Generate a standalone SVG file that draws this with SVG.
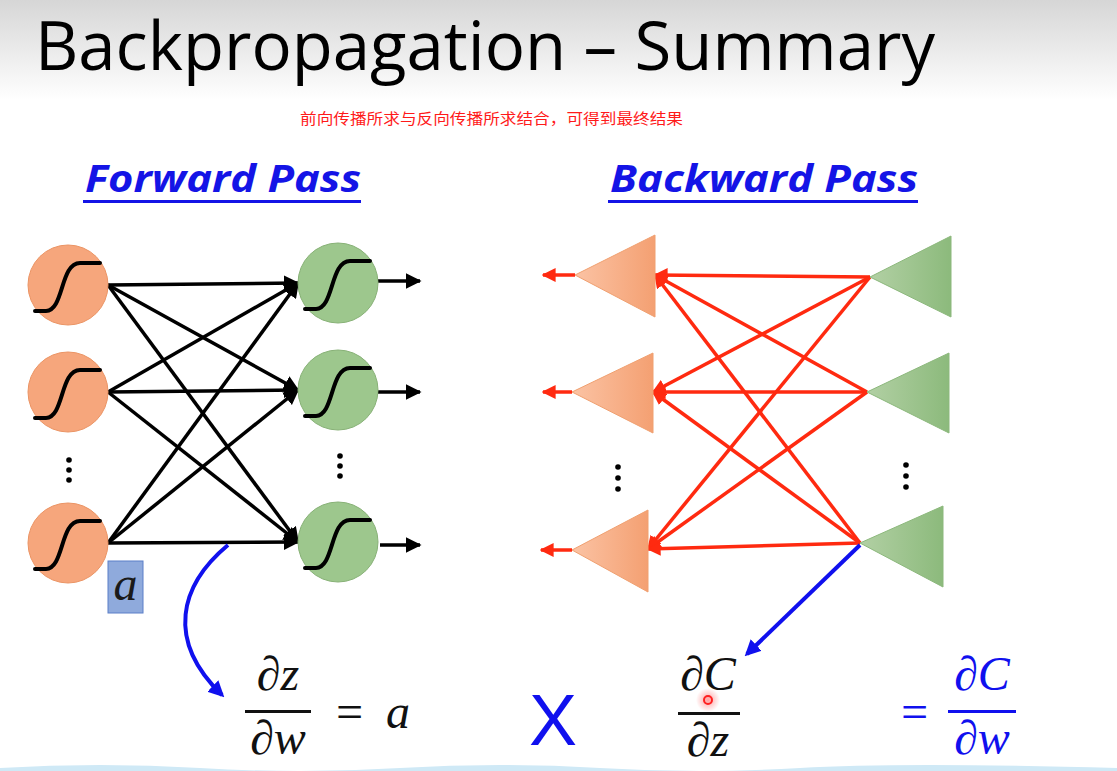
<svg xmlns="http://www.w3.org/2000/svg" width="1117" height="771" viewBox="0 0 1117 771">
<defs>
<linearGradient id="bg" x1="0" y1="0" x2="0" y2="1">
<stop offset="0" stop-color="#d6d6d6"/><stop offset="1" stop-color="#ffffff"/>
</linearGradient>
<linearGradient id="og" x1="0" y1="0" x2="1" y2="0">
<stop offset="0" stop-color="#fbc3a4"/><stop offset="1" stop-color="#f4a072"/>
</linearGradient>
<linearGradient id="gg" x1="0" y1="0" x2="1" y2="0">
<stop offset="0" stop-color="#b2d0a4"/><stop offset="1" stop-color="#8cba7c"/>
</linearGradient>
<radialGradient id="glow"><stop offset="0" stop-color="#ff6060" stop-opacity="0.6"/><stop offset="1" stop-color="#ff6060" stop-opacity="0"/></radialGradient>
<marker id="ak" viewBox="0 0 10 10" refX="9" refY="5" markerWidth="4.5" markerHeight="4.5" orient="auto" markerUnits="strokeWidth"><path d="M0,0 L10,5 L0,10 z" fill="#000"/></marker>
<marker id="ar" viewBox="0 0 10 10" refX="9" refY="5" markerWidth="4" markerHeight="4" orient="auto" markerUnits="strokeWidth"><path d="M0,0 L10,5 L0,10 z" fill="#ff2a10"/></marker>
<marker id="ab" viewBox="0 0 10 10" refX="8" refY="5" markerWidth="4" markerHeight="4" orient="auto" markerUnits="strokeWidth"><path d="M0,0 L10,5 L0,10 z" fill="#1010ee"/></marker>
<path id="sig" d="M-33,26 L-22,26 C-4,26 -8,-22 12,-22 L32,-22"/>
</defs>
<style>
.oc{fill:#f6a67c;stroke:#eb9464;stroke-width:1}
.gc{fill:#9dc78d;stroke:#87b176;stroke-width:1}
.s{fill:none;stroke:#000;stroke-width:4;stroke-linecap:round}
.fw{stroke:#000;stroke-width:3.5;fill:none}
.bw{stroke:#ff2a10;stroke-width:3.5;fill:none}
.ot{fill:url(#og);stroke:#f0a070;stroke-width:1}
.gt{fill:url(#gg);stroke:#8cb87c;stroke-width:1}
.dot{fill:#000}
.hd{font-family:"Open Sans","Liberation Sans",sans-serif;font-weight:bold;font-style:italic;font-size:38px;fill:#1414e6}
.m{font-family:"Liberation Serif","DejaVu Serif",serif;font-style:italic;font-size:48px}
</style>
<rect x="0" y="0" width="1117" height="100" fill="url(#bg)"/>
<rect x="0" y="100" width="1117" height="671" fill="#fff"/>
<text x="35" y="70" font-family="'Open Sans','Liberation Sans',sans-serif" font-size="68" fill="#000" textLength="900" lengthAdjust="spacingAndGlyphs">Backpropagation – Summary</text>
<text x="300" y="124" font-family="'Noto Sans CJK SC',sans-serif" font-size="15" fill="#ff1a1a" textLength="383" lengthAdjust="spacingAndGlyphs">前向传播所求与反向传播所求结合，可得到最终结果</text>

<g id="fwd-title">
<text class="hd" x="85" y="192" textLength="276" lengthAdjust="spacingAndGlyphs">Forward Pass</text>
<rect x="83" y="200" width="278" height="3" fill="#1414e6"/>
</g>
<g id="bwd-title">
<text class="hd" x="610" y="192" textLength="308" lengthAdjust="spacingAndGlyphs">Backward Pass</text>
<rect x="608" y="200" width="310" height="3" fill="#1414e6"/>
</g>

<g id="connectors">
<g class="fw" marker-end="url(#ak)">
<line x1="108" y1="285" x2="298" y2="283"/>
<line x1="108" y1="285" x2="298" y2="390"/>
<line x1="108" y1="285" x2="298" y2="542"/>
<line x1="108" y1="392" x2="298" y2="283"/>
<line x1="108" y1="392" x2="298" y2="390"/>
<line x1="108" y1="392" x2="298" y2="542"/>
<line x1="108" y1="543" x2="298" y2="283"/>
<line x1="108" y1="543" x2="298" y2="390"/>
<line x1="108" y1="543" x2="298" y2="542"/>
<line x1="378" y1="281" x2="420" y2="281"/>
<line x1="378" y1="392" x2="420" y2="392"/>
<line x1="380" y1="545" x2="420" y2="545"/>
</g>
<g class="bw" marker-end="url(#ar)">
<line x1="870" y1="277" x2="655" y2="275"/>
<line x1="870" y1="277" x2="653" y2="392"/>
<line x1="870" y1="277" x2="648" y2="549"/>
<line x1="867" y1="392" x2="655" y2="275"/>
<line x1="867" y1="392" x2="653" y2="392"/>
<line x1="867" y1="392" x2="648" y2="549"/>
<line x1="860" y1="543" x2="655" y2="275"/>
<line x1="860" y1="543" x2="653" y2="392"/>
<line x1="860" y1="543" x2="648" y2="549"/>
<line x1="575" y1="275" x2="543" y2="275"/>
<line x1="572" y1="392" x2="543" y2="392"/>
<line x1="572" y1="550" x2="541" y2="550"/>
</g>
<path d="M228,545 C180,585 165,640 222,695" stroke="#1010ee" stroke-width="4" fill="none" marker-end="url(#ab)"/>
<line x1="860" y1="545" x2="747" y2="654" stroke="#1010ee" stroke-width="4" marker-end="url(#ab)"/>
</g>

<g id="in1"><circle class="oc" cx="68" cy="285" r="40"/><use href="#sig" class="s" x="68" y="285"/></g>
<g id="in2"><circle class="oc" cx="68" cy="392" r="40"/><use href="#sig" class="s" x="68" y="392"/></g>
<g id="in3"><circle class="oc" cx="68" cy="543" r="40"/><use href="#sig" class="s" x="68" y="543"/></g>
<g id="out1"><circle class="gc" cx="338" cy="283" r="40"/><use href="#sig" class="s" x="338" y="283"/></g>
<g id="out2"><circle class="gc" cx="338" cy="390" r="40"/><use href="#sig" class="s" x="338" y="390"/></g>
<g id="out3"><circle class="gc" cx="338" cy="542" r="40"/><use href="#sig" class="s" x="338" y="542"/></g>
<g id="dots-f">
<circle class="dot" cx="69" cy="460" r="2.8"/><circle class="dot" cx="69" cy="470" r="2.8"/><circle class="dot" cx="69" cy="480" r="2.8"/>
<circle class="dot" cx="340" cy="456" r="2.8"/><circle class="dot" cx="340" cy="466" r="2.8"/><circle class="dot" cx="340" cy="476" r="2.8"/>
</g>
<g id="a-box">
<rect x="108" y="561" width="35" height="52" fill="#8faadc" stroke="#5b7fc8" stroke-width="1"/>
<text x="125.5" y="600" text-anchor="middle" class="m" font-size="36" fill="#1a1a1a">a</text>
</g>

<g id="b-in1"><polygon class="ot" points="575,275 655,235 655,317"/></g>
<g id="b-in2"><polygon class="ot" points="572,392 653,353 653,433"/></g>
<g id="b-in3"><polygon class="ot" points="572,550 648,510 648,592"/></g>
<g id="b-out1"><polygon class="gt" points="870,277 951,236 951,317"/></g>
<g id="b-out2"><polygon class="gt" points="867,392 949,353 949,433"/></g>
<g id="b-out3"><polygon class="gt" points="860,543 943,506 943,587"/></g>
<g id="dots-b">
<circle class="dot" cx="618" cy="467" r="2.8"/><circle class="dot" cx="618" cy="478" r="2.8"/><circle class="dot" cx="618" cy="489" r="2.8"/>
<circle class="dot" cx="906" cy="465" r="2.8"/><circle class="dot" cx="906" cy="476" r="2.8"/><circle class="dot" cx="906" cy="487" r="2.8"/>
</g>

<g id="eq1">
<text class="m" x="278" y="690" text-anchor="middle" fill="#111">∂z</text>
<rect x="245" y="710" width="66" height="3" fill="#111"/>
<text class="m" x="278" y="754" text-anchor="middle" fill="#111">∂w</text>
<text class="m" x="333" y="728" font-style="normal" fill="#111">=</text>
<text class="m" x="386" y="728" fill="#111">a</text>
</g>
<g id="times">
<text x="553" y="745" text-anchor="middle" font-family="'Liberation Sans',sans-serif" font-size="72" fill="#1010ee">X</text>
</g>
<g id="eq2">
<text class="m" x="708" y="690" text-anchor="middle" fill="#111">∂C</text>
<rect x="678" y="712" width="62" height="3" fill="#111"/>
<text class="m" x="708" y="756" text-anchor="middle" fill="#111">∂z</text>
<circle cx="708" cy="700" r="12" fill="url(#glow)"/>
<circle cx="708" cy="700" r="4" fill="none" stroke="#ff2020" stroke-width="2"/>
</g>
<g id="eq3">
<text class="m" x="898" y="728" font-style="normal" fill="#1010ee">=</text>
<text class="m" x="982" y="690" text-anchor="middle" fill="#1010ee">∂C</text>
<rect x="948" y="710" width="68" height="3" fill="#1010ee"/>
<text class="m" x="982" y="754" text-anchor="middle" fill="#1010ee">∂w</text>
</g>
<path d="M0,768 Q100,762 200,768 T400,768 T600,768 T800,768 T1117,768 L1117,771 L0,771 z" fill="#cfe9f6"/>
</svg>
